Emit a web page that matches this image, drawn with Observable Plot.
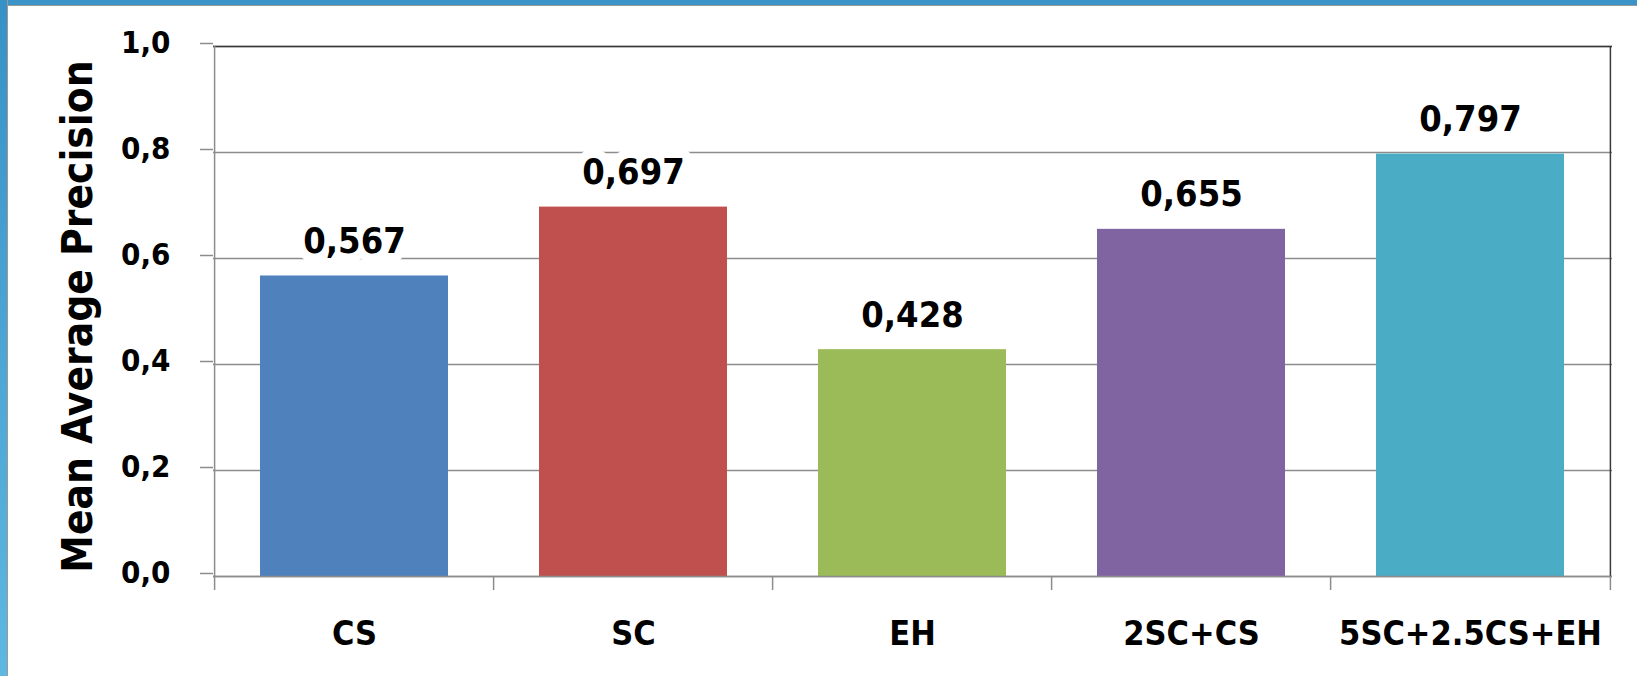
<!DOCTYPE html>
<html>
<head>
<meta charset="utf-8">
<script src="https://cdn.jsdelivr.net/npm/d3@7"></script>
<script src="https://cdn.jsdelivr.net/npm/@observablehq/plot@0.6"></script>
<style>
  html, body { margin: 0; padding: 0; background: #fff; }
  #wrap { position: relative; width: 1637px; height: 676px; overflow: hidden; }
  #topband { position: absolute; left: 0; top: 0; width: 1637px; height: 5px; background: #3a94c8; border-bottom: 1px solid #9a9a9a; }
  #leftband { position: absolute; left: 0; top: 0; width: 7px; height: 676px; background: linear-gradient(#3891c6, #5fb8e0); border-right: 1px solid #9a9a9a; }
  #chart { position: absolute; left: 0; top: 0; }
  svg text { font-family: "DejaVu Sans Condensed", "DejaVu Sans", Verdana, sans-serif; font-stretch: condensed; font-weight: bold; }
</style>
</head>
<body>
<div id="wrap">
  <div id="chart"></div>
  <div id="topband"></div>
  <div id="leftband"></div>
</div>
<script>
const categories = ["CS", "SC", "EH", "2SC+CS", "5SC+2.5CS+EH"];
const values = [0.567, 0.697, 0.428, 0.655, 0.797];
const colors = ["#4f81bd", "#c0504d", "#9bbb59", "#8064a2", "#4bacc6"];
const yTicks = [0, 0.2, 0.4, 0.6, 0.8, 1.0];
const yLabel = "Mean Average Precision";

const data = categories.map((c, i) => ({cat: c, value: values[i], color: colors[i]}));
const fmt = d => d.toFixed(1).replace(".", ",");
const fmt3 = d => d.toFixed(3).replace(".", ",");

const W = 1637, H = 676;
const mL = 213, mR = 25, mT = 46, mB = 100;
const step = (W - mL - mR) / categories.length;
const innerH = H - mT - mB;

const plot = Plot.plot({
  width: W,
  height: H,
  marginLeft: mL,
  marginRight: mR,
  marginTop: mT,
  marginBottom: mB,
  style: {background: "transparent", overflow: "visible"},
  x: {domain: categories, paddingInner: 0.325, paddingOuter: 0.1625, label: null},
  y: {domain: [0, 1], label: null},
  color: {type: "identity"},
  marks: [
    Plot.gridY(yTicks, {stroke: "#8c8c8c", strokeOpacity: 1, strokeWidth: 1.5}),
    Plot.barY(data, {x: "cat", y: "value", fill: "color"}),
    // frame: top & right dark, left & bottom gray
    Plot.ruleY([1], {stroke: "#3a3a3a", strokeWidth: 1.5}),
    Plot.ruleX([categories[categories.length - 1]], {dx: step / 2, stroke: "#3a3a3a", strokeWidth: 1.5}),
    Plot.ruleY([0], {stroke: "#8c8c8c", strokeWidth: 1.5}),
    Plot.axisY(yTicks, {
      tickFormat: fmt, tickSize: 13, tickPadding: 30, stroke: "#8c8c8c", strokeWidth: 1.5,
      fontSize: 31, fill: "#000", dy: -3
    }),
    Plot.ruleX([categories[0]], {dx: -step / 2, stroke: "#8c8c8c", strokeWidth: 1.5}),
    // category boundary ticks
    Plot.tickX(categories, {x: d => d, dx: -step / 2, insetTop: innerH, insetBottom: -14, stroke: "#8c8c8c", strokeWidth: 1.5}),
    Plot.tickX([categories[categories.length - 1]], {x: d => d, dx: step / 2, insetTop: innerH, insetBottom: -14, stroke: "#8c8c8c", strokeWidth: 1.5}),
    Plot.axisX({tickSize: 0, tickPadding: 44, fontSize: 34, fill: "#000"}),
    // value labels with white halo
    Plot.text(data, {
      x: "cat", y: "value", text: d => fmt3(d.value), dy: -23, lineAnchor: "bottom",
      fontSize: 36, fill: "#000", stroke: "white", strokeWidth: 18, paintOrder: "stroke"
    }),
    Plot.text([yLabel], {
      text: d => d, frameAnchor: "left", rotate: -90, dx: -135, dy: 5,
      textAnchor: "middle", lineAnchor: "middle", fontSize: 42, fill: "#000"
    })
  ]
});
document.getElementById("chart").appendChild(plot);
</script>
</body>
</html>
